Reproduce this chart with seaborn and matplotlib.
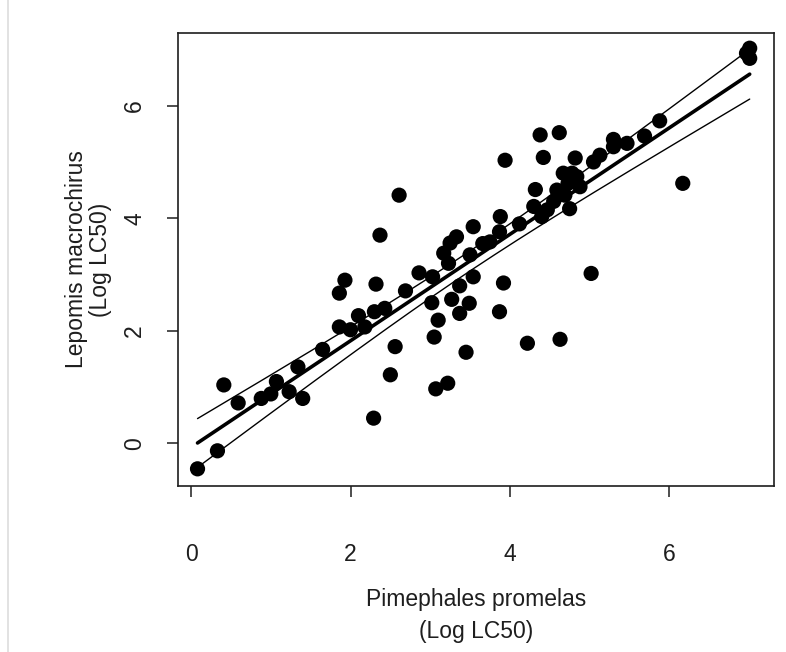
import numpy as np
import pandas as pd
import seaborn as sns
import matplotlib.pyplot as plt
from matplotlib.lines import Line2D

# Log LC50 values for the two fish species (paired by chemical)
x_pimephales = [
    0.08, 0.33, 0.41, 0.59, 0.88, 1.00, 1.07, 1.23, 1.40, 1.34,
    1.65, 1.86, 1.86, 1.93, 2.00, 2.10, 2.18, 2.30, 2.32, 2.29,
    2.37, 2.61, 2.43, 2.56, 2.50, 2.69, 2.86, 3.03, 3.02, 3.10,
    3.05, 3.07, 3.22, 3.27, 3.37, 3.37, 3.49, 3.45, 3.17, 3.23,
    3.33, 3.50, 3.54, 3.25, 3.54, 3.66, 3.75, 3.88, 3.87, 3.92,
    3.87, 3.94, 4.12, 4.22, 4.63, 5.02, 4.32, 4.30, 4.40, 4.38,
    4.62, 4.42, 4.82, 4.67, 4.78, 4.73, 4.84, 4.59, 4.69, 4.75,
    4.88, 4.55, 4.47, 5.05, 5.13, 5.30, 5.30, 5.47, 5.69, 5.88,
    6.17, 7.01, 7.01, 6.97,
]
y_lepomis = [
    -0.45, -0.13, 1.04, 0.72, 0.80, 0.88, 1.10, 0.92, 0.80, 1.36,
    1.67, 2.07, 2.67, 2.90, 2.02, 2.27, 2.07, 2.34, 2.83, 0.45,
    3.70, 4.41, 2.40, 1.72, 1.22, 2.71, 3.03, 2.96, 2.50, 2.19,
    1.89, 0.97, 1.07, 2.56, 2.80, 2.31, 2.49, 1.62, 3.38, 3.20,
    3.67, 3.35, 2.96, 3.56, 3.85, 3.55, 3.58, 4.03, 3.76, 2.85,
    2.34, 5.03, 3.90, 1.78, 1.85, 3.02, 4.51, 4.21, 4.03, 5.48,
    5.52, 5.08, 5.07, 4.80, 4.80, 4.62, 4.74, 4.50, 4.41, 4.17,
    4.56, 4.30, 4.15, 5.00, 5.12, 5.40, 5.27, 5.33, 5.46, 5.73,
    4.62, 7.02, 6.84, 6.93,
]
x_ticks = [0, 2, 4, 6]
y_ticks = [0, 2, 4, 6]

sns.set_theme(style="white")
plt.rcParams['font.family'] = ['Liberation Sans', 'DejaVu Sans']

W, H = 786, 652
INK = "#1e1e1e"
fig = plt.figure(figsize=(W / 100, H / 100), dpi=100)
fig.patch.set_facecolor("white")
ax = fig.add_axes([178 / W, 1 - 486 / H, (774 - 178) / W, (486 - 33) / H])

df = pd.DataFrame({"pimephales": x_pimephales, "lepomis": y_lepomis})
sns.scatterplot(data=df, x="pimephales", y="lepomis", s=120, color="black",
                edgecolor="none", linewidth=0, ax=ax, legend=False, zorder=3)

# least-squares line with 95% confidence band for the mean
x = df["pimephales"].to_numpy()
y = df["lepomis"].to_numpy()
n = len(x)
slope, intercept = np.polyfit(x, y, 1)
resid = y - (intercept + slope * x)
s_err = np.sqrt(np.sum(resid ** 2) / (n - 2))
xbar = x.mean()
sxx = np.sum((x - xbar) ** 2)
xs = np.linspace(x.min(), x.max(), 200)
fit = intercept + slope * xs
half = 1.989 * s_err * np.sqrt(1 / n + (xs - xbar) ** 2 / sxx)

sns.lineplot(x=xs, y=fit, color="black", linewidth=2.6, ax=ax, zorder=4)
sns.lineplot(x=xs, y=fit + half, color="black", linewidth=1.0, ax=ax, zorder=4)
sns.lineplot(x=xs, y=fit - half, color="black", linewidth=1.0, ax=ax, zorder=4)

ax.set_xlim(-0.165, 7.315)
ax.set_ylim(-0.755, 7.29)
ax.set_xticks(x_ticks)
ax.set_yticks(y_ticks)
ax.set_xticklabels([str(t) for t in x_ticks])
ax.set_yticklabels([str(t) for t in y_ticks], rotation=90, va="center")

for sp in ax.spines.values():
    sp.set_visible(True)
    sp.set_color(INK)
    sp.set_linewidth(1.2)

ax.tick_params(axis="both", which="major", direction="out", length=8, width=1.1,
               color=INK, labelcolor=INK, labelsize=16.5,
               bottom=True, left=True, top=False, right=False)
ax.tick_params(axis="x", pad=33)
ax.tick_params(axis="y", pad=15)

ax.set_xlabel("Pimephales promelas\n(Log LC50)", fontsize=16.5, color=INK,
              labelpad=16, linespacing=1.5)
ax.set_ylabel("Lepomis macrochirus\n(Log LC50)", fontsize=16.5, color=INK,
              labelpad=8, linespacing=1.05)

# thin frame line along the left edge of the canvas
fig.add_artist(Line2D([7.5 / W, 7.5 / W], [0, 1], color="#dddddd", linewidth=1.2))

fig.savefig("out.png", dpi=100, facecolor="white")
